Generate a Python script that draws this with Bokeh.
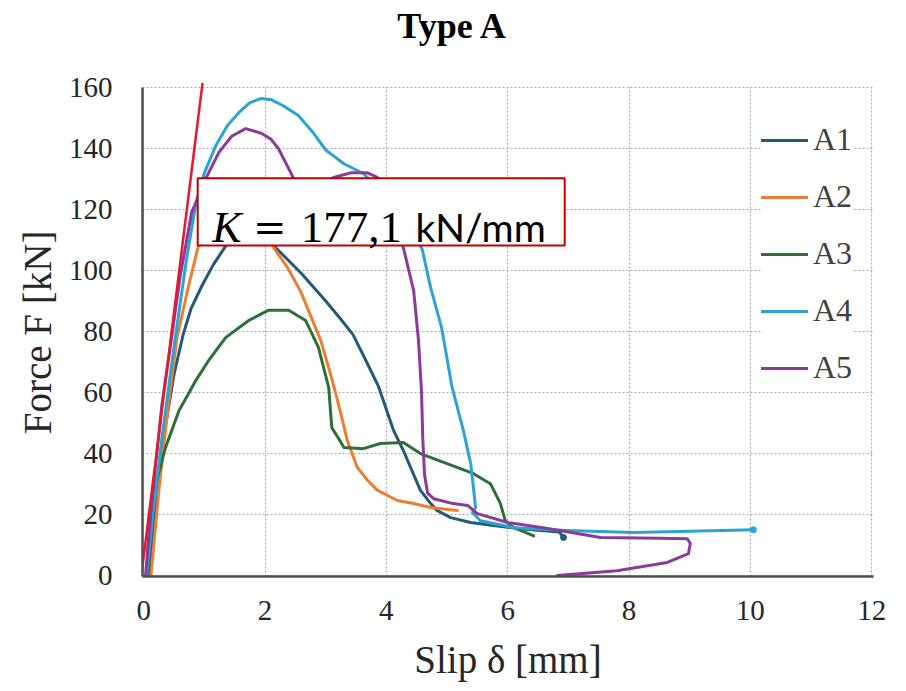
from bokeh.plotting import figure
from bokeh.models import Range1d, FixedTicker, Legend, LegendItem, Label
from bokeh.embed import file_html
from bokeh.resources import INLINE

# ---------------- data ----------------
x_ticks = [0, 2, 4, 6, 8, 10, 12]
y_ticks = [0, 20, 40, 60, 80, 100, 120, 140, 160]
series_names = ["A1", "A2", "A3", "A4", "A5"]

A1_x = [0.08, 0.2, 0.35, 0.5, 0.65, 0.78, 0.96, 1.15, 1.35, 1.6, 1.85, 2.1, 2.35, 2.6, 3.0, 3.25, 3.45, 3.65, 3.87, 4.12, 4.28, 4.4, 4.56, 4.73, 4.84, 5.06, 5.39, 5.8, 6.3, 6.85, 6.92]
A1_y = [0, 25, 48, 66, 79, 87.5, 95, 102, 108, 112, 113, 109, 104, 99, 90, 84, 79, 71, 62, 47.5, 41, 35.4, 28, 23.6, 21.3, 19, 17.4, 16.3, 15.2, 14.3, 12.5]

A2_x = [0.12, 0.25, 0.4, 0.55, 0.74, 0.9, 1.1, 1.35, 1.6, 1.85, 2.14, 2.37, 2.59, 2.92, 3.08, 3.2, 3.36, 3.52, 3.7, 3.85, 4.18, 4.45, 4.73, 5.17]
A2_y = [0, 28, 55, 78, 95, 108, 117, 122, 123, 119, 107.5, 101, 93, 77, 66, 57, 44, 35.5, 31, 28, 24.6, 23.6, 22.3, 21.3]

A3_x = [0.05, 0.08, 0.2, 0.36, 0.58, 0.75, 0.86, 1.07, 1.35, 1.73, 2.06, 2.39, 2.67, 2.88, 3.05, 3.1, 3.21, 3.3, 3.62, 3.9, 4.28, 4.56, 5.0, 5.44, 5.72, 5.88, 5.96, 6.1, 6.43]
A3_y = [0, 12.5, 30, 42, 54, 60, 64, 70.5, 78, 83.6, 87, 87, 83.6, 74.8, 61.6, 48.5, 45, 42, 41.6, 43.3, 43.6, 40, 36.7, 33.4, 30, 23.6, 18, 15.7, 13]

A4_x = [0.05, 0.15, 0.3, 0.5, 0.7, 0.86, 1.0, 1.19, 1.38, 1.57, 1.75, 1.94, 2.1, 2.3, 2.55, 2.78, 3.0, 3.3, 3.62, 4.02, 4.3, 4.59, 4.73, 4.91, 5.08, 5.27, 5.39, 5.44, 5.47, 5.42, 5.55, 6.1, 6.98, 8.07, 9.0, 10.05]
A4_y = [0, 20, 45, 75, 103, 122, 132, 141, 147.5, 151.8, 155, 156.4, 156, 154, 150.8, 145.5, 139.5, 135, 131.8, 124, 116, 107, 94.4, 81.3, 62, 47.5, 36.7, 27.9, 22.3, 20.7, 18, 15.7, 14.8, 14.1, 14.5, 15]

A5_x = [0.03, 0.13, 0.3, 0.46, 0.6, 0.79, 1.02, 1.24, 1.45, 1.68, 1.94, 2.1, 2.22, 2.39, 2.5, 2.7, 2.95, 3.13, 3.41, 3.69, 3.85, 4.0, 4.15, 4.28, 4.45, 4.53, 4.58, 4.6, 4.63, 4.68, 4.78, 5.1, 5.34, 5.5, 6.0, 6.66, 7.53, 8.5, 8.96, 9.01, 8.98, 8.63, 7.8, 6.82]
A5_y = [0, 23.6, 56, 78, 98, 119, 130, 138.7, 144, 146.5, 145, 143, 140, 133.4, 129, 127, 128.5, 130.5, 132, 132, 130.5, 124, 116, 107.5, 93.4, 77, 60, 45, 33, 27, 25.2, 23.6, 23, 20.3, 17.4, 15.4, 12.5, 12.2, 12.1, 10.5, 7.2, 4.3, 1.6, 0]

K_x = [-0.03, 0.97]
K_y = [1.5, 161.5]

colors = ["#24597a", "#ed7d31", "#2e6f33", "#2ba3d3", "#8b3a98"]
serif = "Liberation Serif"

# frame spans the full height above the x axis; the upper part holds the title
p = figure(width=906, height=691, output_backend="svg", toolbar_location=None,
           title_location=None,
           x_range=Range1d(-0.02, 12.03), y_range=Range1d(-0.3, 188.5),
           min_border_left=142, min_border_right=33, min_border_top=0, min_border_bottom=115)
p.outline_line_color = None
p.background_fill_color = "white"
p.border_fill_color = "white"

# axes
p.xaxis.ticker = FixedTicker(ticks=x_ticks)
p.yaxis.ticker = FixedTicker(ticks=y_ticks)
p.yaxis.bounds = (-0.3, 160)
for ax in (p.xaxis[0], p.yaxis[0]):
    ax.major_tick_line_color = None
    ax.minor_tick_line_color = None
    ax.axis_line_color = "#505050"
    ax.axis_line_width = 2.5
    ax.major_label_text_font = serif
    ax.major_label_text_font_size = "29px"
    ax.major_label_text_color = "#262626"
    ax.axis_label_text_font = serif
    ax.axis_label_text_font_size = "39px"
    ax.axis_label_text_font_style = "normal"
    ax.axis_label_text_color = "#262626"
p.xaxis.axis_label = "Slip δ [mm]"
# trailing no-break spaces shift the rotated label down to the middle of the 0..160 span
p.yaxis.axis_label = "Force F [kN]" + "\u00a0" * 9
p.xaxis.major_label_standoff = 18
p.yaxis.major_label_standoff = 24
p.xaxis.axis_label_standoff = 15
p.yaxis.axis_label_standoff = 7

for g in (p.xgrid[0], p.ygrid[0]):
    g.grid_line_color = "#a8a8a8"
    g.grid_line_dash = "2 2"
    g.grid_line_width = 1.2
p.xgrid[0].cross_bounds = (-0.3, 160)

# curves
xs = [A1_x, A2_x, A3_x, A4_x, A5_x]
ys = [A1_y, A2_y, A3_y, A4_y, A5_y]
renderers = []
for name, xx, yy, c in zip(series_names, xs, ys, colors):
    r = p.line(xx, yy, line_color=c, line_width=3, line_join="round", line_cap="round")
    renderers.append(r)
# end markers
p.scatter([A1_x[-1]], [A1_y[-1]], size=6, color=colors[0])
p.scatter([A4_x[-1]], [A4_y[-1]], size=6, color=colors[3])

# stiffness line
p.line(K_x, K_y, line_color="#e8192c", line_width=2.5)

# annotation box (drawn after the curves so it covers them)
p.quad(left=[0.89], right=[6.94], bottom=[108.2], top=[130.2],
       fill_color="white", fill_alpha=1, line_color="#c00000", line_width=2)

p.add_layout(Label(x=1.13, y=114.1, text="K", text_font=serif, text_font_style="italic",
                   text_font_size="44px", text_color="black", text_baseline="alphabetic"))
p.add_layout(Label(x=1.80, y=114.1, text="=", text_font="DejaVu Serif",
                   text_font_size="40px", text_color="black", text_baseline="alphabetic"))
p.add_layout(Label(x=2.59, y=114.1, text="177,1", text_font=serif,
                   text_font_size="45px", text_color="black", text_baseline="alphabetic"))
p.add_layout(Label(x=4.48, y=114.1, text="kN/mm", text_font="Lato",
                   text_font_size="39px", text_color="black", text_baseline="alphabetic"))

# title
p.add_layout(Label(x=5.09, y=180.0, text="Type A", text_font=serif, text_font_style="bold",
                   text_font_size="36px", text_color="black", text_align="center",
                   text_baseline="alphabetic"))

# legend
legend = Legend(items=[LegendItem(label=n, renderers=[r]) for n, r in zip(series_names, renderers)],
                location=(619, 190), background_fill_color="white", background_fill_alpha=1,
                border_line_color=None, label_text_font=serif, label_text_font_size="32px",
                label_text_color="#404040", glyph_width=47, glyph_height=30, label_height=30,
                label_standoff=5, spacing=20, padding=8, margin=0)
p.add_layout(legend)

open("out.html", "w").write(file_html(p, INLINE))
